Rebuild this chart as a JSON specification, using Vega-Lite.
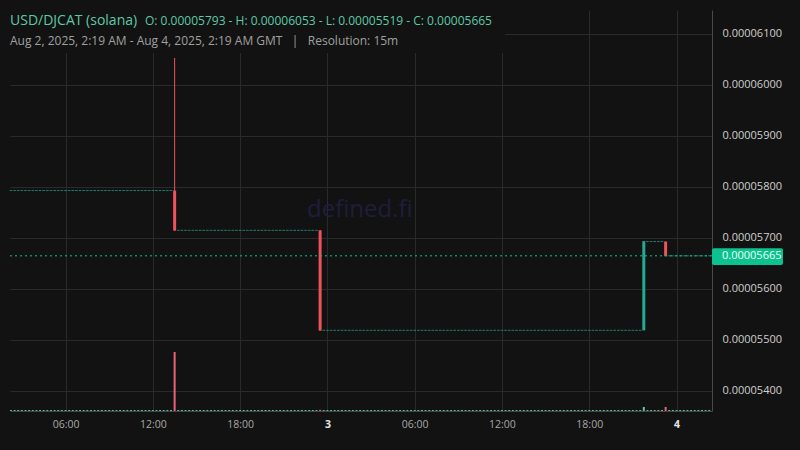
{
"$schema": "https://vega.github.io/schema/vega-lite/v6.json",
"width": 702,
"height": 401,
"autosize": {"type": "none"},
"padding": {"left": 10, "top": 10, "right": 88, "bottom": 39},
"background": "#121212",
"config": {"view": {"stroke": null}, "font": "Open Sans"},
"datasets": {
"candles": [
{"t":"2025-08-02T02:15Z","o":5.793e-5,"h":5.793e-5,"l":5.793e-5,"c":5.793e-5,"v":0.2},
{"t":"2025-08-02T02:30Z","o":5.793e-5,"h":5.793e-5,"l":5.793e-5,"c":5.793e-5,"v":0.2},
{"t":"2025-08-02T02:45Z","o":5.793e-5,"h":5.793e-5,"l":5.793e-5,"c":5.793e-5,"v":0.2},
{"t":"2025-08-02T03:00Z","o":5.793e-5,"h":5.793e-5,"l":5.793e-5,"c":5.793e-5,"v":0.2},
{"t":"2025-08-02T03:15Z","o":5.793e-5,"h":5.793e-5,"l":5.793e-5,"c":5.793e-5,"v":0.2},
{"t":"2025-08-02T03:30Z","o":5.793e-5,"h":5.793e-5,"l":5.793e-5,"c":5.793e-5,"v":0.2},
{"t":"2025-08-02T03:45Z","o":5.793e-5,"h":5.793e-5,"l":5.793e-5,"c":5.793e-5,"v":0.2},
{"t":"2025-08-02T04:00Z","o":5.793e-5,"h":5.793e-5,"l":5.793e-5,"c":5.793e-5,"v":0.2},
{"t":"2025-08-02T04:15Z","o":5.793e-5,"h":5.793e-5,"l":5.793e-5,"c":5.793e-5,"v":0.2},
{"t":"2025-08-02T04:30Z","o":5.793e-5,"h":5.793e-5,"l":5.793e-5,"c":5.793e-5,"v":0.2},
{"t":"2025-08-02T04:45Z","o":5.793e-5,"h":5.793e-5,"l":5.793e-5,"c":5.793e-5,"v":0.2},
{"t":"2025-08-02T05:00Z","o":5.793e-5,"h":5.793e-5,"l":5.793e-5,"c":5.793e-5,"v":0.2},
{"t":"2025-08-02T05:15Z","o":5.793e-5,"h":5.793e-5,"l":5.793e-5,"c":5.793e-5,"v":0.2},
{"t":"2025-08-02T05:30Z","o":5.793e-5,"h":5.793e-5,"l":5.793e-5,"c":5.793e-5,"v":0.2},
{"t":"2025-08-02T05:45Z","o":5.793e-5,"h":5.793e-5,"l":5.793e-5,"c":5.793e-5,"v":0.2},
{"t":"2025-08-02T06:00Z","o":5.793e-5,"h":5.793e-5,"l":5.793e-5,"c":5.793e-5,"v":0.2},
{"t":"2025-08-02T06:15Z","o":5.793e-5,"h":5.793e-5,"l":5.793e-5,"c":5.793e-5,"v":0.2},
{"t":"2025-08-02T06:30Z","o":5.793e-5,"h":5.793e-5,"l":5.793e-5,"c":5.793e-5,"v":0.2},
{"t":"2025-08-02T06:45Z","o":5.793e-5,"h":5.793e-5,"l":5.793e-5,"c":5.793e-5,"v":0.2},
{"t":"2025-08-02T07:00Z","o":5.793e-5,"h":5.793e-5,"l":5.793e-5,"c":5.793e-5,"v":0.2},
{"t":"2025-08-02T07:15Z","o":5.793e-5,"h":5.793e-5,"l":5.793e-5,"c":5.793e-5,"v":0.2},
{"t":"2025-08-02T07:30Z","o":5.793e-5,"h":5.793e-5,"l":5.793e-5,"c":5.793e-5,"v":0.2},
{"t":"2025-08-02T07:45Z","o":5.793e-5,"h":5.793e-5,"l":5.793e-5,"c":5.793e-5,"v":0.2},
{"t":"2025-08-02T08:00Z","o":5.793e-5,"h":5.793e-5,"l":5.793e-5,"c":5.793e-5,"v":0.2},
{"t":"2025-08-02T08:15Z","o":5.793e-5,"h":5.793e-5,"l":5.793e-5,"c":5.793e-5,"v":0.2},
{"t":"2025-08-02T08:30Z","o":5.793e-5,"h":5.793e-5,"l":5.793e-5,"c":5.793e-5,"v":0.2},
{"t":"2025-08-02T08:45Z","o":5.793e-5,"h":5.793e-5,"l":5.793e-5,"c":5.793e-5,"v":0.2},
{"t":"2025-08-02T09:00Z","o":5.793e-5,"h":5.793e-5,"l":5.793e-5,"c":5.793e-5,"v":0.2},
{"t":"2025-08-02T09:15Z","o":5.793e-5,"h":5.793e-5,"l":5.793e-5,"c":5.793e-5,"v":0.2},
{"t":"2025-08-02T09:30Z","o":5.793e-5,"h":5.793e-5,"l":5.793e-5,"c":5.793e-5,"v":0.2},
{"t":"2025-08-02T09:45Z","o":5.793e-5,"h":5.793e-5,"l":5.793e-5,"c":5.793e-5,"v":0.2},
{"t":"2025-08-02T10:00Z","o":5.793e-5,"h":5.793e-5,"l":5.793e-5,"c":5.793e-5,"v":0.2},
{"t":"2025-08-02T10:15Z","o":5.793e-5,"h":5.793e-5,"l":5.793e-5,"c":5.793e-5,"v":0.2},
{"t":"2025-08-02T10:30Z","o":5.793e-5,"h":5.793e-5,"l":5.793e-5,"c":5.793e-5,"v":0.2},
{"t":"2025-08-02T10:45Z","o":5.793e-5,"h":5.793e-5,"l":5.793e-5,"c":5.793e-5,"v":0.2},
{"t":"2025-08-02T11:00Z","o":5.793e-5,"h":5.793e-5,"l":5.793e-5,"c":5.793e-5,"v":0.2},
{"t":"2025-08-02T11:15Z","o":5.793e-5,"h":5.793e-5,"l":5.793e-5,"c":5.793e-5,"v":0.2},
{"t":"2025-08-02T11:30Z","o":5.793e-5,"h":5.793e-5,"l":5.793e-5,"c":5.793e-5,"v":0.2},
{"t":"2025-08-02T11:45Z","o":5.793e-5,"h":5.793e-5,"l":5.793e-5,"c":5.793e-5,"v":0.2},
{"t":"2025-08-02T12:00Z","o":5.793e-5,"h":5.793e-5,"l":5.793e-5,"c":5.793e-5,"v":0.2},
{"t":"2025-08-02T12:15Z","o":5.793e-5,"h":5.793e-5,"l":5.793e-5,"c":5.793e-5,"v":0.2},
{"t":"2025-08-02T12:30Z","o":5.793e-5,"h":5.793e-5,"l":5.793e-5,"c":5.793e-5,"v":0.2},
{"t":"2025-08-02T12:45Z","o":5.793e-5,"h":5.793e-5,"l":5.793e-5,"c":5.793e-5,"v":0.2},
{"t":"2025-08-02T13:00Z","o":5.793e-5,"h":5.793e-5,"l":5.793e-5,"c":5.793e-5,"v":0.2},
{"t":"2025-08-02T13:15Z","o":5.793e-5,"h":5.793e-5,"l":5.793e-5,"c":5.793e-5,"v":0.2},
{"t":"2025-08-02T13:30Z","o":5.793e-5,"h":6.053e-5,"l":5.715e-5,"c":5.715e-5,"v":12.5},
{"t":"2025-08-02T13:45Z","o":5.715e-5,"h":5.715e-5,"l":5.715e-5,"c":5.715e-5,"v":0.2},
{"t":"2025-08-02T14:00Z","o":5.715e-5,"h":5.715e-5,"l":5.715e-5,"c":5.715e-5,"v":0.2},
{"t":"2025-08-02T14:15Z","o":5.715e-5,"h":5.715e-5,"l":5.715e-5,"c":5.715e-5,"v":0.2},
{"t":"2025-08-02T14:30Z","o":5.715e-5,"h":5.715e-5,"l":5.715e-5,"c":5.715e-5,"v":0.2},
{"t":"2025-08-02T14:45Z","o":5.715e-5,"h":5.715e-5,"l":5.715e-5,"c":5.715e-5,"v":0.2},
{"t":"2025-08-02T15:00Z","o":5.715e-5,"h":5.715e-5,"l":5.715e-5,"c":5.715e-5,"v":0.2},
{"t":"2025-08-02T15:15Z","o":5.715e-5,"h":5.715e-5,"l":5.715e-5,"c":5.715e-5,"v":0.2},
{"t":"2025-08-02T15:30Z","o":5.715e-5,"h":5.715e-5,"l":5.715e-5,"c":5.715e-5,"v":0.2},
{"t":"2025-08-02T15:45Z","o":5.715e-5,"h":5.715e-5,"l":5.715e-5,"c":5.715e-5,"v":0.2},
{"t":"2025-08-02T16:00Z","o":5.715e-5,"h":5.715e-5,"l":5.715e-5,"c":5.715e-5,"v":0.2},
{"t":"2025-08-02T16:15Z","o":5.715e-5,"h":5.715e-5,"l":5.715e-5,"c":5.715e-5,"v":0.2},
{"t":"2025-08-02T16:30Z","o":5.715e-5,"h":5.715e-5,"l":5.715e-5,"c":5.715e-5,"v":0.2},
{"t":"2025-08-02T16:45Z","o":5.715e-5,"h":5.715e-5,"l":5.715e-5,"c":5.715e-5,"v":0.2},
{"t":"2025-08-02T17:00Z","o":5.715e-5,"h":5.715e-5,"l":5.715e-5,"c":5.715e-5,"v":0.2},
{"t":"2025-08-02T17:15Z","o":5.715e-5,"h":5.715e-5,"l":5.715e-5,"c":5.715e-5,"v":0.2},
{"t":"2025-08-02T17:30Z","o":5.715e-5,"h":5.715e-5,"l":5.715e-5,"c":5.715e-5,"v":0.2},
{"t":"2025-08-02T17:45Z","o":5.715e-5,"h":5.715e-5,"l":5.715e-5,"c":5.715e-5,"v":0.2},
{"t":"2025-08-02T18:00Z","o":5.715e-5,"h":5.715e-5,"l":5.715e-5,"c":5.715e-5,"v":0.2},
{"t":"2025-08-02T18:15Z","o":5.715e-5,"h":5.715e-5,"l":5.715e-5,"c":5.715e-5,"v":0.2},
{"t":"2025-08-02T18:30Z","o":5.715e-5,"h":5.715e-5,"l":5.715e-5,"c":5.715e-5,"v":0.2},
{"t":"2025-08-02T18:45Z","o":5.715e-5,"h":5.715e-5,"l":5.715e-5,"c":5.715e-5,"v":0.2},
{"t":"2025-08-02T19:00Z","o":5.715e-5,"h":5.715e-5,"l":5.715e-5,"c":5.715e-5,"v":0.2},
{"t":"2025-08-02T19:15Z","o":5.715e-5,"h":5.715e-5,"l":5.715e-5,"c":5.715e-5,"v":0.2},
{"t":"2025-08-02T19:30Z","o":5.715e-5,"h":5.715e-5,"l":5.715e-5,"c":5.715e-5,"v":0.2},
{"t":"2025-08-02T19:45Z","o":5.715e-5,"h":5.715e-5,"l":5.715e-5,"c":5.715e-5,"v":0.2},
{"t":"2025-08-02T20:00Z","o":5.715e-5,"h":5.715e-5,"l":5.715e-5,"c":5.715e-5,"v":0.2},
{"t":"2025-08-02T20:15Z","o":5.715e-5,"h":5.715e-5,"l":5.715e-5,"c":5.715e-5,"v":0.2},
{"t":"2025-08-02T20:30Z","o":5.715e-5,"h":5.715e-5,"l":5.715e-5,"c":5.715e-5,"v":0.2},
{"t":"2025-08-02T20:45Z","o":5.715e-5,"h":5.715e-5,"l":5.715e-5,"c":5.715e-5,"v":0.2},
{"t":"2025-08-02T21:00Z","o":5.715e-5,"h":5.715e-5,"l":5.715e-5,"c":5.715e-5,"v":0.2},
{"t":"2025-08-02T21:15Z","o":5.715e-5,"h":5.715e-5,"l":5.715e-5,"c":5.715e-5,"v":0.2},
{"t":"2025-08-02T21:30Z","o":5.715e-5,"h":5.715e-5,"l":5.715e-5,"c":5.715e-5,"v":0.2},
{"t":"2025-08-02T21:45Z","o":5.715e-5,"h":5.715e-5,"l":5.715e-5,"c":5.715e-5,"v":0.2},
{"t":"2025-08-02T22:00Z","o":5.715e-5,"h":5.715e-5,"l":5.715e-5,"c":5.715e-5,"v":0.2},
{"t":"2025-08-02T22:15Z","o":5.715e-5,"h":5.715e-5,"l":5.715e-5,"c":5.715e-5,"v":0.2},
{"t":"2025-08-02T22:30Z","o":5.715e-5,"h":5.715e-5,"l":5.715e-5,"c":5.715e-5,"v":0.2},
{"t":"2025-08-02T22:45Z","o":5.715e-5,"h":5.715e-5,"l":5.715e-5,"c":5.715e-5,"v":0.2},
{"t":"2025-08-02T23:00Z","o":5.715e-5,"h":5.715e-5,"l":5.715e-5,"c":5.715e-5,"v":0.2},
{"t":"2025-08-02T23:15Z","o":5.715e-5,"h":5.715e-5,"l":5.715e-5,"c":5.715e-5,"v":0.2},
{"t":"2025-08-02T23:30Z","o":5.715e-5,"h":5.715e-5,"l":5.519e-5,"c":5.519e-5,"v":0.25},
{"t":"2025-08-02T23:45Z","o":5.519e-5,"h":5.519e-5,"l":5.519e-5,"c":5.519e-5,"v":0.2},
{"t":"2025-08-03T00:00Z","o":5.519e-5,"h":5.519e-5,"l":5.519e-5,"c":5.519e-5,"v":0.2},
{"t":"2025-08-03T00:15Z","o":5.519e-5,"h":5.519e-5,"l":5.519e-5,"c":5.519e-5,"v":0.2},
{"t":"2025-08-03T00:30Z","o":5.519e-5,"h":5.519e-5,"l":5.519e-5,"c":5.519e-5,"v":0.2},
{"t":"2025-08-03T00:45Z","o":5.519e-5,"h":5.519e-5,"l":5.519e-5,"c":5.519e-5,"v":0.2},
{"t":"2025-08-03T01:00Z","o":5.519e-5,"h":5.519e-5,"l":5.519e-5,"c":5.519e-5,"v":0.2},
{"t":"2025-08-03T01:15Z","o":5.519e-5,"h":5.519e-5,"l":5.519e-5,"c":5.519e-5,"v":0.2},
{"t":"2025-08-03T01:30Z","o":5.519e-5,"h":5.519e-5,"l":5.519e-5,"c":5.519e-5,"v":0.2},
{"t":"2025-08-03T01:45Z","o":5.519e-5,"h":5.519e-5,"l":5.519e-5,"c":5.519e-5,"v":0.2},
{"t":"2025-08-03T02:00Z","o":5.519e-5,"h":5.519e-5,"l":5.519e-5,"c":5.519e-5,"v":0.2},
{"t":"2025-08-03T02:15Z","o":5.519e-5,"h":5.519e-5,"l":5.519e-5,"c":5.519e-5,"v":0.2},
{"t":"2025-08-03T02:30Z","o":5.519e-5,"h":5.519e-5,"l":5.519e-5,"c":5.519e-5,"v":0.2},
{"t":"2025-08-03T02:45Z","o":5.519e-5,"h":5.519e-5,"l":5.519e-5,"c":5.519e-5,"v":0.2},
{"t":"2025-08-03T03:00Z","o":5.519e-5,"h":5.519e-5,"l":5.519e-5,"c":5.519e-5,"v":0.2},
{"t":"2025-08-03T03:15Z","o":5.519e-5,"h":5.519e-5,"l":5.519e-5,"c":5.519e-5,"v":0.2},
{"t":"2025-08-03T03:30Z","o":5.519e-5,"h":5.519e-5,"l":5.519e-5,"c":5.519e-5,"v":0.2},
{"t":"2025-08-03T03:45Z","o":5.519e-5,"h":5.519e-5,"l":5.519e-5,"c":5.519e-5,"v":0.2},
{"t":"2025-08-03T04:00Z","o":5.519e-5,"h":5.519e-5,"l":5.519e-5,"c":5.519e-5,"v":0.2},
{"t":"2025-08-03T04:15Z","o":5.519e-5,"h":5.519e-5,"l":5.519e-5,"c":5.519e-5,"v":0.2},
{"t":"2025-08-03T04:30Z","o":5.519e-5,"h":5.519e-5,"l":5.519e-5,"c":5.519e-5,"v":0.2},
{"t":"2025-08-03T04:45Z","o":5.519e-5,"h":5.519e-5,"l":5.519e-5,"c":5.519e-5,"v":0.2},
{"t":"2025-08-03T05:00Z","o":5.519e-5,"h":5.519e-5,"l":5.519e-5,"c":5.519e-5,"v":0.2},
{"t":"2025-08-03T05:15Z","o":5.519e-5,"h":5.519e-5,"l":5.519e-5,"c":5.519e-5,"v":0.2},
{"t":"2025-08-03T05:30Z","o":5.519e-5,"h":5.519e-5,"l":5.519e-5,"c":5.519e-5,"v":0.2},
{"t":"2025-08-03T05:45Z","o":5.519e-5,"h":5.519e-5,"l":5.519e-5,"c":5.519e-5,"v":0.2},
{"t":"2025-08-03T06:00Z","o":5.519e-5,"h":5.519e-5,"l":5.519e-5,"c":5.519e-5,"v":0.2},
{"t":"2025-08-03T06:15Z","o":5.519e-5,"h":5.519e-5,"l":5.519e-5,"c":5.519e-5,"v":0.2},
{"t":"2025-08-03T06:30Z","o":5.519e-5,"h":5.519e-5,"l":5.519e-5,"c":5.519e-5,"v":0.2},
{"t":"2025-08-03T06:45Z","o":5.519e-5,"h":5.519e-5,"l":5.519e-5,"c":5.519e-5,"v":0.2},
{"t":"2025-08-03T07:00Z","o":5.519e-5,"h":5.519e-5,"l":5.519e-5,"c":5.519e-5,"v":0.2},
{"t":"2025-08-03T07:15Z","o":5.519e-5,"h":5.519e-5,"l":5.519e-5,"c":5.519e-5,"v":0.2},
{"t":"2025-08-03T07:30Z","o":5.519e-5,"h":5.519e-5,"l":5.519e-5,"c":5.519e-5,"v":0.2},
{"t":"2025-08-03T07:45Z","o":5.519e-5,"h":5.519e-5,"l":5.519e-5,"c":5.519e-5,"v":0.2},
{"t":"2025-08-03T08:00Z","o":5.519e-5,"h":5.519e-5,"l":5.519e-5,"c":5.519e-5,"v":0.2},
{"t":"2025-08-03T08:15Z","o":5.519e-5,"h":5.519e-5,"l":5.519e-5,"c":5.519e-5,"v":0.2},
{"t":"2025-08-03T08:30Z","o":5.519e-5,"h":5.519e-5,"l":5.519e-5,"c":5.519e-5,"v":0.2},
{"t":"2025-08-03T08:45Z","o":5.519e-5,"h":5.519e-5,"l":5.519e-5,"c":5.519e-5,"v":0.2},
{"t":"2025-08-03T09:00Z","o":5.519e-5,"h":5.519e-5,"l":5.519e-5,"c":5.519e-5,"v":0.2},
{"t":"2025-08-03T09:15Z","o":5.519e-5,"h":5.519e-5,"l":5.519e-5,"c":5.519e-5,"v":0.2},
{"t":"2025-08-03T09:30Z","o":5.519e-5,"h":5.519e-5,"l":5.519e-5,"c":5.519e-5,"v":0.2},
{"t":"2025-08-03T09:45Z","o":5.519e-5,"h":5.519e-5,"l":5.519e-5,"c":5.519e-5,"v":0.2},
{"t":"2025-08-03T10:00Z","o":5.519e-5,"h":5.519e-5,"l":5.519e-5,"c":5.519e-5,"v":0.2},
{"t":"2025-08-03T10:15Z","o":5.519e-5,"h":5.519e-5,"l":5.519e-5,"c":5.519e-5,"v":0.2},
{"t":"2025-08-03T10:30Z","o":5.519e-5,"h":5.519e-5,"l":5.519e-5,"c":5.519e-5,"v":0.2},
{"t":"2025-08-03T10:45Z","o":5.519e-5,"h":5.519e-5,"l":5.519e-5,"c":5.519e-5,"v":0.2},
{"t":"2025-08-03T11:00Z","o":5.519e-5,"h":5.519e-5,"l":5.519e-5,"c":5.519e-5,"v":0.2},
{"t":"2025-08-03T11:15Z","o":5.519e-5,"h":5.519e-5,"l":5.519e-5,"c":5.519e-5,"v":0.2},
{"t":"2025-08-03T11:30Z","o":5.519e-5,"h":5.519e-5,"l":5.519e-5,"c":5.519e-5,"v":0.2},
{"t":"2025-08-03T11:45Z","o":5.519e-5,"h":5.519e-5,"l":5.519e-5,"c":5.519e-5,"v":0.2},
{"t":"2025-08-03T12:00Z","o":5.519e-5,"h":5.519e-5,"l":5.519e-5,"c":5.519e-5,"v":0.2},
{"t":"2025-08-03T12:15Z","o":5.519e-5,"h":5.519e-5,"l":5.519e-5,"c":5.519e-5,"v":0.2},
{"t":"2025-08-03T12:30Z","o":5.519e-5,"h":5.519e-5,"l":5.519e-5,"c":5.519e-5,"v":0.2},
{"t":"2025-08-03T12:45Z","o":5.519e-5,"h":5.519e-5,"l":5.519e-5,"c":5.519e-5,"v":0.2},
{"t":"2025-08-03T13:00Z","o":5.519e-5,"h":5.519e-5,"l":5.519e-5,"c":5.519e-5,"v":0.2},
{"t":"2025-08-03T13:15Z","o":5.519e-5,"h":5.519e-5,"l":5.519e-5,"c":5.519e-5,"v":0.2},
{"t":"2025-08-03T13:30Z","o":5.519e-5,"h":5.519e-5,"l":5.519e-5,"c":5.519e-5,"v":0.2},
{"t":"2025-08-03T13:45Z","o":5.519e-5,"h":5.519e-5,"l":5.519e-5,"c":5.519e-5,"v":0.2},
{"t":"2025-08-03T14:00Z","o":5.519e-5,"h":5.519e-5,"l":5.519e-5,"c":5.519e-5,"v":0.2},
{"t":"2025-08-03T14:15Z","o":5.519e-5,"h":5.519e-5,"l":5.519e-5,"c":5.519e-5,"v":0.2},
{"t":"2025-08-03T14:30Z","o":5.519e-5,"h":5.519e-5,"l":5.519e-5,"c":5.519e-5,"v":0.2},
{"t":"2025-08-03T14:45Z","o":5.519e-5,"h":5.519e-5,"l":5.519e-5,"c":5.519e-5,"v":0.2},
{"t":"2025-08-03T15:00Z","o":5.519e-5,"h":5.519e-5,"l":5.519e-5,"c":5.519e-5,"v":0.2},
{"t":"2025-08-03T15:15Z","o":5.519e-5,"h":5.519e-5,"l":5.519e-5,"c":5.519e-5,"v":0.2},
{"t":"2025-08-03T15:30Z","o":5.519e-5,"h":5.519e-5,"l":5.519e-5,"c":5.519e-5,"v":0.2},
{"t":"2025-08-03T15:45Z","o":5.519e-5,"h":5.519e-5,"l":5.519e-5,"c":5.519e-5,"v":0.2},
{"t":"2025-08-03T16:00Z","o":5.519e-5,"h":5.519e-5,"l":5.519e-5,"c":5.519e-5,"v":0.2},
{"t":"2025-08-03T16:15Z","o":5.519e-5,"h":5.519e-5,"l":5.519e-5,"c":5.519e-5,"v":0.2},
{"t":"2025-08-03T16:30Z","o":5.519e-5,"h":5.519e-5,"l":5.519e-5,"c":5.519e-5,"v":0.2},
{"t":"2025-08-03T16:45Z","o":5.519e-5,"h":5.519e-5,"l":5.519e-5,"c":5.519e-5,"v":0.2},
{"t":"2025-08-03T17:00Z","o":5.519e-5,"h":5.519e-5,"l":5.519e-5,"c":5.519e-5,"v":0.2},
{"t":"2025-08-03T17:15Z","o":5.519e-5,"h":5.519e-5,"l":5.519e-5,"c":5.519e-5,"v":0.2},
{"t":"2025-08-03T17:30Z","o":5.519e-5,"h":5.519e-5,"l":5.519e-5,"c":5.519e-5,"v":0.2},
{"t":"2025-08-03T17:45Z","o":5.519e-5,"h":5.519e-5,"l":5.519e-5,"c":5.519e-5,"v":0.2},
{"t":"2025-08-03T18:00Z","o":5.519e-5,"h":5.519e-5,"l":5.519e-5,"c":5.519e-5,"v":0.2},
{"t":"2025-08-03T18:15Z","o":5.519e-5,"h":5.519e-5,"l":5.519e-5,"c":5.519e-5,"v":0.2},
{"t":"2025-08-03T18:30Z","o":5.519e-5,"h":5.519e-5,"l":5.519e-5,"c":5.519e-5,"v":0.2},
{"t":"2025-08-03T18:45Z","o":5.519e-5,"h":5.519e-5,"l":5.519e-5,"c":5.519e-5,"v":0.2},
{"t":"2025-08-03T19:00Z","o":5.519e-5,"h":5.519e-5,"l":5.519e-5,"c":5.519e-5,"v":0.2},
{"t":"2025-08-03T19:15Z","o":5.519e-5,"h":5.519e-5,"l":5.519e-5,"c":5.519e-5,"v":0.2},
{"t":"2025-08-03T19:30Z","o":5.519e-5,"h":5.519e-5,"l":5.519e-5,"c":5.519e-5,"v":0.2},
{"t":"2025-08-03T19:45Z","o":5.519e-5,"h":5.519e-5,"l":5.519e-5,"c":5.519e-5,"v":0.2},
{"t":"2025-08-03T20:00Z","o":5.519e-5,"h":5.519e-5,"l":5.519e-5,"c":5.519e-5,"v":0.2},
{"t":"2025-08-03T20:15Z","o":5.519e-5,"h":5.519e-5,"l":5.519e-5,"c":5.519e-5,"v":0.2},
{"t":"2025-08-03T20:30Z","o":5.519e-5,"h":5.519e-5,"l":5.519e-5,"c":5.519e-5,"v":0.2},
{"t":"2025-08-03T20:45Z","o":5.519e-5,"h":5.519e-5,"l":5.519e-5,"c":5.519e-5,"v":0.2},
{"t":"2025-08-03T21:00Z","o":5.519e-5,"h":5.519e-5,"l":5.519e-5,"c":5.519e-5,"v":0.2},
{"t":"2025-08-03T21:15Z","o":5.519e-5,"h":5.519e-5,"l":5.519e-5,"c":5.519e-5,"v":0.2},
{"t":"2025-08-03T21:30Z","o":5.519e-5,"h":5.519e-5,"l":5.519e-5,"c":5.519e-5,"v":0.2},
{"t":"2025-08-03T21:45Z","o":5.519e-5,"h":5.693e-5,"l":5.519e-5,"c":5.693e-5,"v":0.85},
{"t":"2025-08-03T22:00Z","o":5.693e-5,"h":5.693e-5,"l":5.693e-5,"c":5.693e-5,"v":0.2},
{"t":"2025-08-03T22:15Z","o":5.693e-5,"h":5.693e-5,"l":5.693e-5,"c":5.693e-5,"v":0.2},
{"t":"2025-08-03T22:30Z","o":5.693e-5,"h":5.693e-5,"l":5.693e-5,"c":5.693e-5,"v":0.2},
{"t":"2025-08-03T22:45Z","o":5.693e-5,"h":5.693e-5,"l":5.693e-5,"c":5.693e-5,"v":0.2},
{"t":"2025-08-03T23:00Z","o":5.693e-5,"h":5.693e-5,"l":5.693e-5,"c":5.693e-5,"v":0.2},
{"t":"2025-08-03T23:15Z","o":5.693e-5,"h":5.693e-5,"l":5.665e-5,"c":5.665e-5,"v":0.85},
{"t":"2025-08-03T23:30Z","o":5.665e-5,"h":5.665e-5,"l":5.665e-5,"c":5.665e-5,"v":0.2},
{"t":"2025-08-03T23:45Z","o":5.665e-5,"h":5.665e-5,"l":5.665e-5,"c":5.665e-5,"v":0.2},
{"t":"2025-08-04T00:00Z","o":5.665e-5,"h":5.665e-5,"l":5.665e-5,"c":5.665e-5,"v":0.2},
{"t":"2025-08-04T00:15Z","o":5.665e-5,"h":5.665e-5,"l":5.665e-5,"c":5.665e-5,"v":0.2},
{"t":"2025-08-04T00:30Z","o":5.665e-5,"h":5.665e-5,"l":5.665e-5,"c":5.665e-5,"v":0.2},
{"t":"2025-08-04T00:45Z","o":5.665e-5,"h":5.665e-5,"l":5.665e-5,"c":5.665e-5,"v":0.2},
{"t":"2025-08-04T01:00Z","o":5.665e-5,"h":5.665e-5,"l":5.665e-5,"c":5.665e-5,"v":0.2},
{"t":"2025-08-04T01:15Z","o":5.665e-5,"h":5.665e-5,"l":5.665e-5,"c":5.665e-5,"v":0.2},
{"t":"2025-08-04T01:30Z","o":5.665e-5,"h":5.665e-5,"l":5.665e-5,"c":5.665e-5,"v":0.2},
{"t":"2025-08-04T01:45Z","o":5.665e-5,"h":5.665e-5,"l":5.665e-5,"c":5.665e-5,"v":0.2},
{"t":"2025-08-04T02:00Z","o":5.665e-5,"h":5.665e-5,"l":5.665e-5,"c":5.665e-5,"v":0.2},
{"t":"2025-08-04T02:15Z","o":5.665e-5,"h":5.665e-5,"l":5.665e-5,"c":5.665e-5,"v":0.2}
]
},
"layer": [
{
"layer": [
{
"data": {"values": [{"label": "defined.fi"}]},
"mark": {"type": "text", "fontSize": 24, "color": "#1e1e3c", "align": "center", "baseline": "middle"},
"encoding": {
"x": {"datum": {"year": 2025, "month": 8, "date": 3, "hours": 2, "minutes": 14, "utc": true}, "type": "temporal", "title": null},
"y": {"datum": 0.00005755, "type": "quantitative", "title": null},
"text": {"field": "label"}
}
},
{
"data": {"name": "candles"},
"mark": {"type": "rule", "strokeWidth": 1},
"encoding": {
"x": {"field": "t", "type": "temporal", "title": null,
"scale": {"type": "utc", "nice": false, "padding": 0, "domain": [{"year": 2025, "month": 8, "date": 2, "hours": 2, "minutes": 11, "utc": true}, {"year": 2025, "month": 8, "date": 4, "hours": 2, "minutes": 26, "seconds": 15, "utc": true}]},
"axis": {"values": [1754114400000, 1754136000000, 1754157600000, 1754179200000, 1754200800000, 1754222400000, 1754244000000, 1754265600000],
"labelExpr": "utchours(datum.value) == 0 ? utcFormat(datum.value, '%-d') : utcFormat(datum.value, '%H:%M')",
"labelFontWeight": {"condition": {"test": "utchours(datum.value) == 0", "value": "bold"}, "value": "normal"},
"labelColor": {"condition": {"test": "utchours(datum.value) == 0", "value": "#e6e6e6"}, "value": "#a8a8a8"},
"labelFontSize": 10.5, "labelPadding": 8, "ticks": false, "grid": true, "gridColor": "#2a2a2a", "gridWidth": 1,
"domain": true, "domainColor": "#444444", "labelFont": "Open Sans"}},
"y": {"field": "h", "type": "quantitative", "title": null,
"scale": {"zero": false, "nice": false, "padding": 0, "domain": [0.0000536078, 0.00006147]},
"axis": {"orient": "right", "values": [0.000054, 0.000055, 0.000056, 0.000057, 0.000058, 0.000059, 0.00006, 0.000061],
"format": ".8f", "ticks": false, "grid": true, "gridColor": "#2a2a2a", "domain": true, "domainColor": "#4a4a4a",
"labelPadding": 10, "labelColor": "#cfcfcf", "labelFontSize": 11, "labelFont": "Open Sans"}},
"y2": {"field": "l"},
"color": {"condition": {"test": "datum.c < datum.o", "value": "#f0525c"}, "value": "#22ab94"}
}
},
{
"data": {"name": "candles"},
"mark": {"type": "bar", "width": 3},
"encoding": {
"x": {"field": "t", "type": "temporal", "title": null},
"y": {"field": "o", "type": "quantitative", "title": null},
"y2": {"field": "c"},
"color": {"condition": {"test": "datum.c < datum.o", "value": "#f0525c"}, "value": "#22ab94"}
}
},
{
"data": {"name": "candles"},
"mark": {"type": "tick", "orient": "horizontal", "size": 2.7, "thickness": 1},
"encoding": {
"x": {"field": "t", "type": "temporal", "title": null},
"y": {"field": "c", "type": "quantitative", "title": null},
"color": {"condition": {"test": "datum.c < datum.o", "value": "#f0525c"}, "value": "#22ab94"}
}
},
{
"data": {"values": [{}]},
"mark": {"type": "rule", "color": "#10c38e", "strokeWidth": 1, "strokeDash": [2, 3]},
"encoding": {
"y": {"datum": 0.00005665, "type": "quantitative", "title": null}
}
},
{
"data": {"values": [{}]},
"mark": {"type": "rect", "color": "#121212"},
"encoding": {
"x": {"datum": {"year": 2025, "month": 8, "date": 2, "hours": 2, "minutes": 11, "utc": true}, "type": "temporal", "title": null},
"x2": {"datum": {"year": 2025, "month": 8, "date": 3, "hours": 12, "minutes": 12, "seconds": 30, "utc": true}},
"y": {"datum": 0.000060627, "type": "quantitative", "title": null},
"y2": {"datum": 0.00006147}
}
},
{
"data": {"values": [{"label": "USD/DJCAT (solana)"}]},
"mark": {"type": "text", "fontSize": 14, "color": "#5ec9a8", "align": "left", "baseline": "alphabetic"},
"encoding": {
"x": {"datum": {"year": 2025, "month": 8, "date": 2, "hours": 2, "minutes": 11, "utc": true}, "type": "temporal", "title": null},
"y": {"datum": 0.000061176, "type": "quantitative", "title": null},
"text": {"field": "label"}
}
},
{
"data": {"values": [{"label": "O: 0.00005793 - H: 0.00006053 - L: 0.00005519 - C: 0.00005665"}]},
"mark": {"type": "text", "fontSize": 12, "color": "#5ec9a8", "align": "left", "baseline": "alphabetic"},
"encoding": {
"x": {"datum": {"year": 2025, "month": 8, "date": 2, "hours": 11, "minutes": 27, "seconds": 45, "utc": true}, "type": "temporal", "title": null},
"y": {"datum": 0.000061176, "type": "quantitative", "title": null},
"text": {"field": "label"}
}
},
{
"data": {"values": [{"label": "Aug 2, 2025, 2:19 AM - Aug 4, 2025, 2:19 AM GMT\u00a0\u00a0\u00a0|\u00a0\u00a0\u00a0Resolution: 15m"}]},
"mark": {"type": "text", "fontSize": 12, "color": "#a0a0a0", "align": "left", "baseline": "alphabetic"},
"encoding": {
"x": {"datum": {"year": 2025, "month": 8, "date": 2, "hours": 2, "minutes": 11, "utc": true}, "type": "temporal", "title": null},
"y": {"datum": 0.000060784, "type": "quantitative", "title": null},
"text": {"field": "label"}
}
},
{
"data": {"values": [{}]},
"mark": {"type": "rect", "color": "#0cc28e", "cornerRadius": 2},
"encoding": {
"x": {"datum": {"year": 2025, "month": 8, "date": 4, "hours": 2, "minutes": 26, "seconds": 15, "utc": true}, "type": "temporal", "title": null},
"x2": {"datum": {"year": 2025, "month": 8, "date": 4, "hours": 7, "minutes": 19, "utc": true}},
"y": {"datum": 0.0000568, "type": "quantitative", "title": null},
"y2": {"datum": 0.00005647}
}
},
{
"data": {"values": [{"label": "0.00005665"}]},
"mark": {"type": "text", "fontSize": 11, "color": "#effff8", "align": "left", "baseline": "middle"},
"encoding": {
"x": {"datum": {"year": 2025, "month": 8, "date": 4, "hours": 3, "minutes": 7, "seconds": 30, "utc": true}, "type": "temporal", "title": null},
"y": {"datum": 0.00005665, "type": "quantitative", "title": null},
"text": {"field": "label"}
}
}
]
},
{
"data": {"name": "candles"},
"mark": {"type": "bar", "width": 2},
"encoding": {
"x": {"field": "t", "type": "temporal", "title": null},
"y": {"field": "v", "type": "quantitative", "title": null, "scale": {"domain": [0, 85], "padding": 0}, "axis": null},
"color": {"condition": {"test": "datum.c < datum.o", "value": "#ea6478"}, "value": "#5cc8a6"}
}
}
],
"resolve": {"scale": {"y": "independent"}}
}
